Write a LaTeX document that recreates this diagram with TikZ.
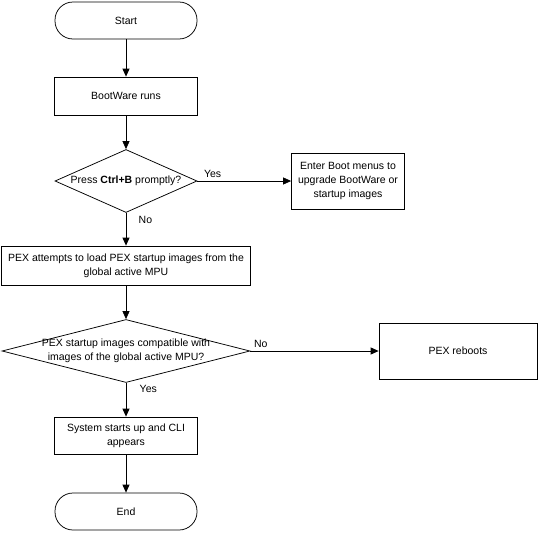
\documentclass[tikz,border=0pt]{standalone}
\usepackage{fontspec}
\setmainfont{Liberation Sans}
\usetikzlibrary{shapes.geometric, arrows.meta}

\begin{document}
\begin{tikzpicture}[x=1pt, y=-1pt, node distance=85pt,
        >={Triangle[length=8pt, width=7pt]},
        every node/.style={font=\fontsize{10.5}{14}\selectfont},
        terminal/.style={draw, line width=0.75pt, rectangle, rounded corners=18pt, minimum width=142pt, minimum height=37pt},
        process/.style={draw, line width=0.75pt, rectangle, align=center, inner sep=2pt},
        decision/.style={draw, line width=0.75pt, diamond, align=center, inner sep=0pt},
        flow/.style={->, line width=0.75pt}]
        \useasboundingbox (0,0) rectangle (540,533);

        \node[terminal] (start) at (126,20.5) {Start};
        \node[process, minimum width=143pt, minimum height=38pt] (boot) [below of=start, node distance=75.5pt] {BootWare runs};
        \node[decision, aspect=2.25, minimum width=142pt, minimum height=63pt] (ctrlb) [below of=boot] {Press \textbf{Ctrl+B} promptly?};
        \node[process, minimum width=113pt, minimum height=56pt] (menus) [right of=ctrlb, node distance=222pt] {Enter Boot menus to\\upgrade BootWare or\\startup images};
        \node[process, minimum width=249pt, minimum height=39pt] (load) [below of=ctrlb, node distance=84.5pt] {PEX attempts to load PEX startup images from the\\global active MPU};
        \node[decision, aspect=3.94, inner xsep=-20pt, minimum width=248pt, minimum height=63pt] (compat) [below of=load, node distance=85.5pt] {PEX startup images compatible with\\images of the global active MPU?};
        \node[process, minimum width=158pt, minimum height=56pt] (reboot) [right of=compat, node distance=332pt] {PEX reboots};
        \node[process, minimum width=143pt, minimum height=37pt] (cli) [below of=compat, node distance=84.5pt] {System starts up and CLI\\appears};
        \node[terminal] (end) [below of=cli, node distance=76pt] {End};

        \path[flow]
            (start) edge (boot)
            (boot) edge (ctrlb)
            (ctrlb) edge node[pos=0, above right, xshift=3pt] {Yes} (menus)
            (ctrlb) edge node[pos=0, below right, xshift=9pt] {No} (load)
            (load) edge (compat)
            (compat) edge node[pos=0, above right] {No} (reboot)
            (compat) edge node[pos=0, below right, xshift=10pt, yshift=1pt] {Yes} (cli)
            (cli) edge (end);
    \end{tikzpicture}
\end{document}
